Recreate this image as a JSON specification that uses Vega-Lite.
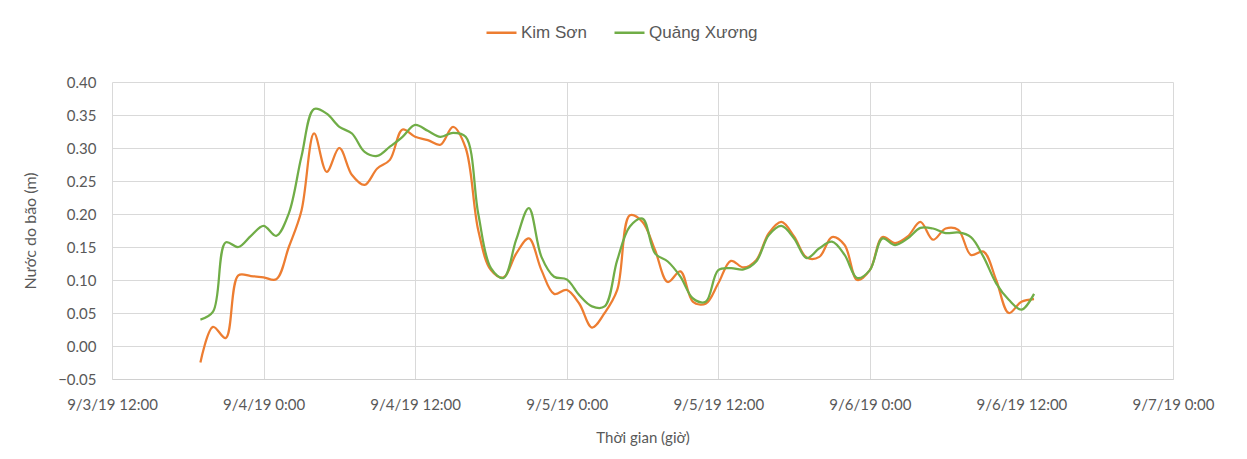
{
  "$schema": "https://vega.github.io/schema/vega-lite/v6.json",
  "width": 1061,
  "height": 297,
  "autosize": {"type": "none"},
  "padding": {"left": 112, "top": 82, "right": 74, "bottom": 80},
  "background": "white",
  "config": {"view": {"stroke": null}, "font": "Lato"},
  "data": {"values": [
    {"time": "2019-09-03T19:00", "Kim Sơn": -0.025, "Quảng Xương": 0.040},
    {"time": "2019-09-03T20:00", "Kim Sơn": 0.029, "Quảng Xương": 0.052},
    {"time": "2019-09-03T21:00", "Kim Sơn": 0.012, "Quảng Xương": 0.157},
    {"time": "2019-09-03T22:00", "Kim Sơn": 0.107, "Quảng Xương": 0.150},
    {"time": "2019-09-03T23:00", "Kim Sơn": 0.106, "Quảng Xương": 0.167},
    {"time": "2019-09-04T00:00", "Kim Sơn": 0.104, "Quảng Xương": 0.182},
    {"time": "2019-09-04T01:00", "Kim Sơn": 0.101, "Quảng Xương": 0.167},
    {"time": "2019-09-04T02:00", "Kim Sơn": 0.150, "Quảng Xương": 0.201},
    {"time": "2019-09-04T03:00", "Kim Sơn": 0.205, "Quảng Xương": 0.287},
    {"time": "2019-09-04T04:00", "Kim Sơn": 0.322, "Quảng Xương": 0.359},
    {"time": "2019-09-04T05:00", "Kim Sơn": 0.264, "Quảng Xương": 0.352},
    {"time": "2019-09-04T06:00", "Kim Sơn": 0.300, "Quảng Xương": 0.332},
    {"time": "2019-09-04T07:00", "Kim Sơn": 0.259, "Quảng Xương": 0.322},
    {"time": "2019-09-04T08:00", "Kim Sơn": 0.244, "Quảng Xương": 0.294},
    {"time": "2019-09-04T09:00", "Kim Sơn": 0.269, "Quảng Xương": 0.288},
    {"time": "2019-09-04T10:00", "Kim Sơn": 0.282, "Quảng Xương": 0.302},
    {"time": "2019-09-04T11:00", "Kim Sơn": 0.328, "Quảng Xương": 0.317},
    {"time": "2019-09-04T12:00", "Kim Sơn": 0.317, "Quảng Xương": 0.335},
    {"time": "2019-09-04T13:00", "Kim Sơn": 0.312, "Quảng Xương": 0.326},
    {"time": "2019-09-04T14:00", "Kim Sơn": 0.305, "Quảng Xương": 0.317},
    {"time": "2019-09-04T15:00", "Kim Sơn": 0.332, "Quảng Xương": 0.323},
    {"time": "2019-09-04T16:00", "Kim Sơn": 0.300, "Quảng Xương": 0.317},
    {"time": "2019-09-04T17:00", "Kim Sơn": 0.175, "Quảng Xương": 0.200},
    {"time": "2019-09-04T18:00", "Kim Sơn": 0.115, "Quảng Xương": 0.118},
    {"time": "2019-09-04T19:00", "Kim Sơn": 0.104, "Quảng Xương": 0.103},
    {"time": "2019-09-04T20:00", "Kim Sơn": 0.140, "Quảng Xương": 0.161},
    {"time": "2019-09-04T21:00", "Kim Sơn": 0.163, "Quảng Xương": 0.209},
    {"time": "2019-09-04T22:00", "Kim Sơn": 0.115, "Quảng Xương": 0.135},
    {"time": "2019-09-04T23:00", "Kim Sơn": 0.079, "Quảng Xương": 0.105},
    {"time": "2019-09-05T00:00", "Kim Sơn": 0.085, "Quảng Xương": 0.101},
    {"time": "2019-09-05T01:00", "Kim Sơn": 0.064, "Quảng Xương": 0.077},
    {"time": "2019-09-05T02:00", "Kim Sơn": 0.028, "Quảng Xương": 0.060},
    {"time": "2019-09-05T03:00", "Kim Sơn": 0.050, "Quảng Xương": 0.060},
    {"time": "2019-09-05T04:00", "Kim Sơn": 0.085, "Quảng Xương": 0.130},
    {"time": "2019-09-05T05:00", "Kim Sơn": 0.198, "Quảng Xương": 0.181},
    {"time": "2019-09-05T06:00", "Kim Sơn": 0.188, "Quảng Xương": 0.193},
    {"time": "2019-09-05T07:00", "Kim Sơn": 0.145, "Quảng Xương": 0.140},
    {"time": "2019-09-05T08:00", "Kim Sơn": 0.097, "Quảng Xương": 0.128},
    {"time": "2019-09-05T09:00", "Kim Sơn": 0.113, "Quảng Xương": 0.105},
    {"time": "2019-09-05T10:00", "Kim Sơn": 0.067, "Quảng Xương": 0.072},
    {"time": "2019-09-05T11:00", "Kim Sơn": 0.064, "Quảng Xương": 0.067},
    {"time": "2019-09-05T12:00", "Kim Sơn": 0.095, "Quảng Xương": 0.115},
    {"time": "2019-09-05T13:00", "Kim Sơn": 0.129, "Quảng Xương": 0.118},
    {"time": "2019-09-05T14:00", "Kim Sơn": 0.119, "Quảng Xương": 0.116},
    {"time": "2019-09-05T15:00", "Kim Sơn": 0.130, "Quảng Xương": 0.128},
    {"time": "2019-09-05T16:00", "Kim Sơn": 0.171, "Quảng Xương": 0.168},
    {"time": "2019-09-05T17:00", "Kim Sơn": 0.188, "Quảng Xương": 0.182},
    {"time": "2019-09-05T18:00", "Kim Sơn": 0.166, "Quảng Xương": 0.163},
    {"time": "2019-09-05T19:00", "Kim Sơn": 0.134, "Quảng Xương": 0.133},
    {"time": "2019-09-05T20:00", "Kim Sơn": 0.135, "Quảng Xương": 0.148},
    {"time": "2019-09-05T21:00", "Kim Sơn": 0.165, "Quảng Xương": 0.158},
    {"time": "2019-09-05T22:00", "Kim Sơn": 0.153, "Quảng Xương": 0.138},
    {"time": "2019-09-05T23:00", "Kim Sơn": 0.100, "Quảng Xương": 0.103},
    {"time": "2019-09-06T00:00", "Kim Sơn": 0.115, "Quảng Xương": 0.115},
    {"time": "2019-09-06T01:00", "Kim Sơn": 0.165, "Quảng Xương": 0.163},
    {"time": "2019-09-06T02:00", "Kim Sơn": 0.156, "Quảng Xương": 0.153},
    {"time": "2019-09-06T03:00", "Kim Sơn": 0.166, "Quảng Xương": 0.163},
    {"time": "2019-09-06T04:00", "Kim Sơn": 0.188, "Quảng Xương": 0.179},
    {"time": "2019-09-06T05:00", "Kim Sơn": 0.161, "Quảng Xương": 0.178},
    {"time": "2019-09-06T06:00", "Kim Sơn": 0.178, "Quảng Xương": 0.171},
    {"time": "2019-09-06T07:00", "Kim Sơn": 0.176, "Quảng Xương": 0.172},
    {"time": "2019-09-06T08:00", "Kim Sơn": 0.138, "Quảng Xương": 0.165},
    {"time": "2019-09-06T09:00", "Kim Sơn": 0.143, "Quảng Xương": 0.135},
    {"time": "2019-09-06T10:00", "Kim Sơn": 0.100, "Quảng Xương": 0.095},
    {"time": "2019-09-06T11:00", "Kim Sơn": 0.050, "Quảng Xương": 0.070},
    {"time": "2019-09-06T12:00", "Kim Sơn": 0.067, "Quảng Xương": 0.055},
    {"time": "2019-09-06T13:00", "Kim Sơn": 0.071, "Quảng Xương": 0.079}
  ]},
  "transform": [{"fold": ["Kim Sơn", "Quảng Xương"], "as": ["series", "value"]}],
  "mark": {"type": "line", "interpolate": "catmull-rom", "strokeWidth": 2.25},
  "encoding": {
    "x": {
      "field": "time", "type": "temporal",
      "scale": {"domain": [
        {"year": 2019, "month": 9, "date": 3, "hours": 12},
        {"year": 2019, "month": 9, "date": 7, "hours": 0}
      ]},
      "axis": {
        "title": "Thời gian (giờ)",
        "titleFont": "Lato", "titleFontSize": 15, "titleFontWeight": "normal", "titleColor": "#595959", "titlePadding": 18,
        "values": [
          {"year": 2019, "month": 9, "date": 3, "hours": 12},
          {"year": 2019, "month": 9, "date": 4, "hours": 0},
          {"year": 2019, "month": 9, "date": 4, "hours": 12},
          {"year": 2019, "month": 9, "date": 5, "hours": 0},
          {"year": 2019, "month": 9, "date": 5, "hours": 12},
          {"year": 2019, "month": 9, "date": 6, "hours": 0},
          {"year": 2019, "month": 9, "date": 6, "hours": 12},
          {"year": 2019, "month": 9, "date": 7, "hours": 0}
        ],
        "format": "%-m/%-d/%y %-H:%M",
        "labelFont": "Lato", "labelFontSize": 15, "labelColor": "#595959", "labelPadding": 18,
        "labelOverlap": false, "labelFlush": false,
        "ticks": false, "domainColor": "#d0d0d0", "domainWidth": 1,
        "grid": true, "gridColor": "#d9d9d9", "gridWidth": 1
      }
    },
    "y": {
      "field": "value", "type": "quantitative",
      "scale": {"domain": [-0.05, 0.4], "nice": false, "zero": false},
      "axis": {
        "title": "Nước do bão (m)",
        "titleFont": "Lato", "titleFontSize": 16, "titleFontWeight": "normal", "titleColor": "#595959", "titlePadding": 19,
        "values": [-0.05, 0, 0.05, 0.1, 0.15, 0.2, 0.25, 0.3, 0.35, 0.4],
        "format": ".2f",
        "labelFont": "Lato", "labelFontSize": 15, "labelColor": "#595959", "labelPadding": 16,
        "ticks": false, "domain": false,
        "grid": true, "gridColor": "#d9d9d9", "gridWidth": 1
      }
    },
    "color": {
      "field": "series", "type": "nominal",
      "scale": {"domain": ["Kim Sơn", "Quảng Xương"], "range": ["#ED7D31", "#70AD47"]},
      "legend": {
        "title": null, "orient": "none", "direction": "horizontal",
        "legendX": 373, "legendY": -66,
        "symbolType": "stroke", "symbolStrokeWidth": 2.5, "symbolSize": 900,
        "labelFont": "Liberation Sans", "labelFontSize": 17, "labelColor": "#595959",
        "columnPadding": 22, "labelOffset": 3
      }
    }
  }
}
